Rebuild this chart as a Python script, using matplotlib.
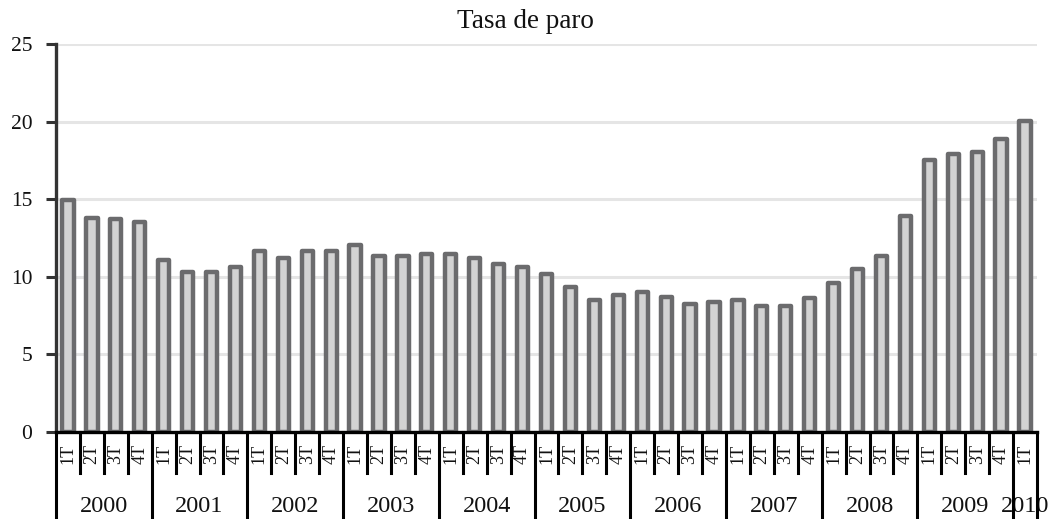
import matplotlib
matplotlib.use("Agg")
import matplotlib.pyplot as plt

title = "Tasa de paro"
years = ["2000", "2001", "2002", "2003", "2004", "2005",
         "2006", "2007", "2008", "2009", "2010"]
quarters = ["1T", "2T", "3T", "4T"]
values = [
    14.95, 13.8, 13.7, 13.5,      # 2000
    11.1, 10.3, 10.3, 10.6,       # 2001
    11.65, 11.2, 11.65, 11.65,    # 2002
    12.05, 11.35, 11.35, 11.45,   # 2003
    11.45, 11.2, 10.8, 10.6,      # 2004
    10.2, 9.35, 8.5, 8.8,         # 2005
    9.05, 8.7, 8.25, 8.35,        # 2006
    8.5, 8.1, 8.1, 8.65,          # 2007
    9.6, 10.5, 11.35, 13.9,       # 2008
    17.5, 17.9, 18.05, 18.9,      # 2009
    20.05,                        # 2010
]
yticks = [0, 5, 10, 15, 20, 25]

serif = ["Liberation Serif", "DejaVu Serif"]
plt.rcParams["font.family"] = serif

W, H = 1050, 519
fig = plt.figure(figsize=(W / 100, H / 100), dpi=100)
left, right, bottom, top = 56, 1037, 432, 44
ax = fig.add_axes([left / W, 1 - bottom / H, (right - left) / W, (bottom - top) / H])

n = len(values)
x = [i + 0.5 for i in range(n)]
ax.bar(x, values, width=0.47, color="#d3d3d3", edgecolor="#6b6b6d",
       linewidth=3.2, joinstyle="round", zorder=3)

ax.set_xlim(0, n)
ax.set_ylim(0, 25)
ax.set_yticks(yticks)
ax.set_yticklabels([str(t) for t in yticks], fontsize=15.5, color="#111111")
ax.set_xticks([])
ax.yaxis.grid(True, color="#e5e5e5", linewidth=2.2, zorder=0)
ax.set_axisbelow(True)
ax.tick_params(axis="y", length=7, width=2.2, color="#333333", pad=10)

for s in ["top", "right"]:
    ax.spines[s].set_visible(False)
ax.spines["left"].set_color("#333333")
ax.spines["left"].set_linewidth(2.4)
ax.spines["bottom"].set_color("#000000")
ax.spines["bottom"].set_linewidth(2.4)
ax.spines["bottom"].set_zorder(5)

trans = ax.get_xaxis_transform()
ph = bottom - top
q_end = -(473 - bottom) / ph
y_end = -(H - bottom + 5) / ph

# quarter labels and separators
labels = [quarters[i % 4] for i in range(n)]
for i, lab in enumerate(labels):
    ax.text(i + 0.5, -(444 - bottom) / ph, lab, transform=trans, rotation=90,
            ha="center", va="top", fontsize=13, color="#111111")
for i in range(1, n):
    if i % 4 != 0:
        ax.plot([i, i], [0, q_end], transform=trans, color="black",
                linewidth=2.2, clip_on=False, zorder=5)
for i in list(range(0, n, 4)) + [n]:
    ax.plot([i, i], [0, y_end], transform=trans, color="black",
            linewidth=2.2, clip_on=False, zorder=5)

# year labels
for k, yr in enumerate(years):
    start = 4 * k
    stop = min(4 * k + 4, n)
    ax.text((start + stop) / 2, -(506 - bottom) / ph, yr, transform=trans,
            ha="center", va="center", fontsize=17.5, color="#111111")

fig.text(0.5, 1 - 22 / H, title, ha="center", va="center", fontsize=19.5,
         color="#111111")

fig.savefig("out.png", dpi=100)
